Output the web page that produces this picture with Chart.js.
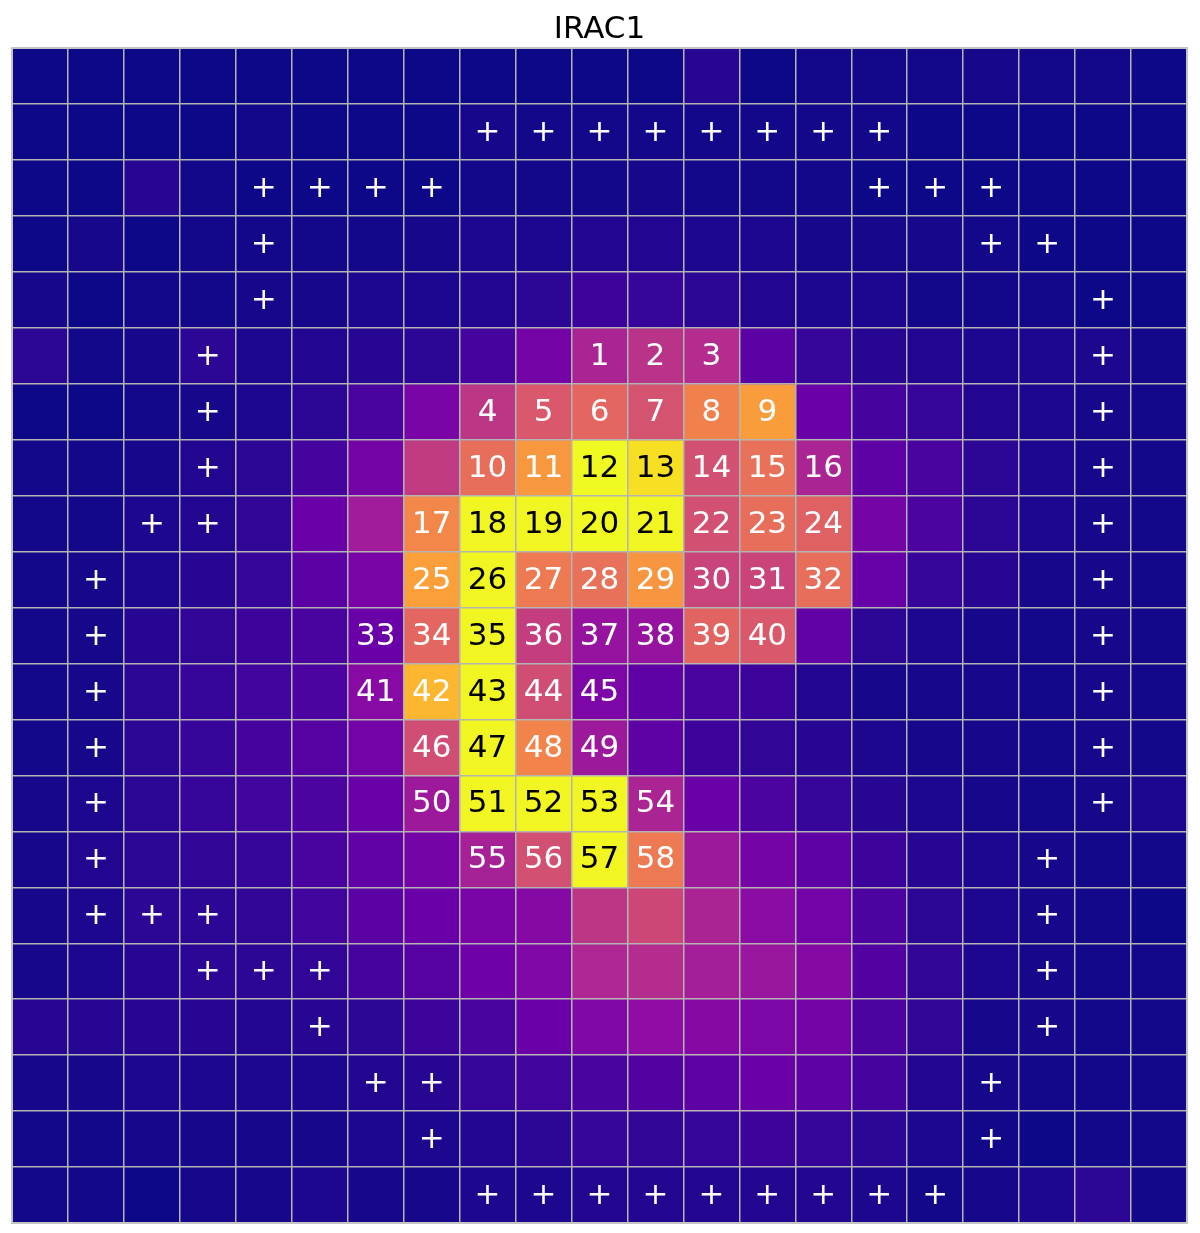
<!DOCTYPE html>
<html lang="en">

<head>
  <meta charset="UTF-8">
  <title>IRAC1</title>
  <style>
    html, body { margin: 0; padding: 0; background: #ffffff; }
    #box { width: 1200px; height: 1233px; }
  </style>
</head>

<body>
  <div id="box">
    <canvas id="myChart"></canvas>
  </div>

  <script src="https://cdn.jsdelivr.net/npm/chart.js"></script>

  <script>
    // grid columns and rows (21 x 21 pixels)
    const columns = ['0','1','2','3','4','5','6','7','8','9','10','11','12','13','14','15','16','17','18','19','20'];
    const rows = [0,1,2,3,4,5,6,7,8,9,10,11,12,13,14,15,16,17,18,19,20];

    // normalised flux per pixel, top row first
    const row00 = [0.00,0.00,0.00,0.00,0.00,0.00,0.00,0.00,0.00,0.00,0.00,0.00,0.05,0.00,0.01,0.01,0.01,0.02,0.01,0.01,0.00];
    const row01 = [0.00,0.00,0.00,0.00,0.01,0.00,0.00,0.00,0.02,0.01,0.01,0.01,0.01,0.01,0.01,0.01,0.00,0.00,0.00,0.00,0.00];
    const row02 = [0.00,0.00,0.05,0.01,0.00,0.00,0.00,0.00,0.01,0.01,0.01,0.02,0.01,0.01,0.01,0.00,0.00,0.00,0.00,0.00,0.00];
    const row03 = [0.00,0.02,0.00,0.01,0.01,0.01,0.01,0.02,0.03,0.03,0.04,0.04,0.03,0.03,0.02,0.02,0.02,0.01,0.00,0.00,0.00];
    const row04 = [0.02,0.00,0.01,0.01,0.02,0.02,0.03,0.03,0.04,0.06,0.09,0.08,0.06,0.04,0.03,0.03,0.01,0.01,0.01,0.00,0.00];
    const row05 = [0.06,0.01,0.02,0.06,0.03,0.04,0.05,0.06,0.11,0.23,0.38,0.43,0.41,0.16,0.08,0.05,0.04,0.03,0.03,0.03,0.01];
    const row06 = [0.00,0.00,0.01,0.02,0.03,0.06,0.12,0.24,0.44,0.56,0.61,0.54,0.69,0.77,0.20,0.11,0.08,0.04,0.03,0.02,0.01];
    const row07 = [0.01,0.01,0.02,0.04,0.06,0.11,0.23,0.46,0.63,0.76,1.00,0.94,0.53,0.64,0.38,0.17,0.12,0.06,0.03,0.02,0.01];
    const row08 = [0.01,0.01,0.03,0.04,0.07,0.20,0.35,0.71,0.99,0.99,1.00,0.99,0.53,0.63,0.59,0.23,0.13,0.06,0.03,0.02,0.01];
    const row09 = [0.01,0.02,0.03,0.05,0.08,0.16,0.24,0.78,0.99,0.67,0.64,0.75,0.49,0.49,0.63,0.19,0.08,0.05,0.02,0.02,0.01];
    const row10 = [0.01,0.02,0.05,0.07,0.09,0.12,0.20,0.61,0.99,0.47,0.32,0.32,0.60,0.56,0.18,0.06,0.03,0.02,0.01,0.02,0.01];
    const row11 = [0.01,0.02,0.06,0.08,0.10,0.13,0.28,0.84,0.99,0.52,0.25,0.17,0.12,0.09,0.04,0.02,0.02,0.02,0.01,0.02,0.01];
    const row12 = [0.01,0.02,0.06,0.08,0.11,0.15,0.22,0.52,0.99,0.70,0.34,0.17,0.09,0.07,0.05,0.03,0.02,0.02,0.01,0.02,0.01];
    const row13 = [0.02,0.03,0.06,0.08,0.10,0.13,0.20,0.34,0.99,0.99,0.99,0.38,0.20,0.13,0.08,0.05,0.03,0.02,0.01,0.02,0.03];
    const row14 = [0.02,0.04,0.06,0.07,0.08,0.12,0.18,0.23,0.37,0.53,0.99,0.67,0.34,0.23,0.17,0.09,0.05,0.03,0.02,0.01,0.01];
    const row15 = [0.02,0.03,0.06,0.06,0.07,0.10,0.16,0.20,0.24,0.27,0.44,0.50,0.38,0.29,0.22,0.13,0.06,0.03,0.02,0.01,0.00];
    const row16 = [0.02,0.03,0.05,0.06,0.06,0.07,0.11,0.15,0.21,0.26,0.39,0.41,0.36,0.33,0.27,0.14,0.07,0.03,0.02,0.01,0.01];
    const row17 = [0.05,0.05,0.05,0.05,0.04,0.05,0.06,0.09,0.12,0.20,0.26,0.30,0.27,0.25,0.23,0.13,0.07,0.02,0.02,0.01,0.01];
    const row18 = [0.02,0.02,0.03,0.03,0.03,0.03,0.04,0.05,0.08,0.10,0.12,0.14,0.17,0.20,0.17,0.11,0.04,0.02,0.01,0.01,0.01];
    const row19 = [0.01,0.01,0.02,0.02,0.02,0.02,0.03,0.03,0.04,0.06,0.08,0.07,0.08,0.09,0.08,0.06,0.03,0.01,0.00,0.01,0.01];
    const row20 = [0.01,0.01,0.00,0.02,0.02,0.03,0.02,0.02,0.03,0.03,0.04,0.04,0.04,0.04,0.04,0.03,0.01,0.02,0.03,0.06,0.01];
    const flux = [row00,row01,row02,row03,row04,row05,row06,row07,row08,row09,row10,
                  row11,row12,row13,row14,row15,row16,row17,row18,row19,row20];

    // numbered pixels 1..58 as [row, col]
    const numberedCells = [
      [5,10],[5,11],[5,12],
      [6,8],[6,9],[6,10],[6,11],[6,12],[6,13],
      [7,8],[7,9],[7,10],[7,11],[7,12],[7,13],[7,14],
      [8,7],[8,8],[8,9],[8,10],[8,11],[8,12],[8,13],[8,14],
      [9,7],[9,8],[9,9],[9,10],[9,11],[9,12],[9,13],[9,14],
      [10,6],[10,7],[10,8],[10,9],[10,10],[10,11],[10,12],[10,13],
      [11,6],[11,7],[11,8],[11,9],[11,10],
      [12,7],[12,8],[12,9],[12,10],
      [13,7],[13,8],[13,9],[13,10],[13,11],
      [14,8],[14,9],[14,10],[14,11]
    ];

    // aperture ring marked with '+'
    const plusCells = [
      [1,8],[1,9],[1,10],[1,11],[1,12],[1,13],[1,14],[1,15],
      [2,4],[2,5],[2,6],[2,7],[2,15],[2,16],[2,17],
      [3,4],[3,17],[3,18],
      [4,4],[4,19],
      [5,3],[5,19],[6,3],[6,19],[7,3],[7,19],
      [8,2],[8,3],[8,19],
      [9,1],[9,19],[10,1],[10,19],[11,1],[11,19],[12,1],[12,19],[13,1],[13,19],
      [14,1],[14,18],
      [15,1],[15,2],[15,3],[15,18],
      [16,3],[16,4],[16,5],[16,18],
      [17,5],[17,18],
      [18,6],[18,7],[18,17],
      [19,7],[19,17],
      [20,8],[20,9],[20,10],[20,11],[20,12],[20,13],[20,14],[20,15],[20,16]
    ];

    // plasma colormap
    const plasmaStops = ['#0d0887','#41049d','#6a00a8','#8f0da4','#b12a90','#cc4778',
                         '#e16462','#f2844b','#fca636','#fcce25','#f0f921'];
    function hexToRgb(h) {
      return [parseInt(h.slice(1,3),16), parseInt(h.slice(3,5),16), parseInt(h.slice(5,7),16)];
    }
    function plasma(v) {
      v = Math.max(0, Math.min(1, v));
      const p = v * (plasmaStops.length - 1);
      const i = Math.min(Math.floor(p), plasmaStops.length - 2);
      const f = p - i;
      const a = hexToRgb(plasmaStops[i]), b = hexToRgb(plasmaStops[i + 1]);
      const c = a.map((x, k) => Math.round(x + (b[k] - x) * f));
      return 'rgb(' + c.join(',') + ')';
    }

    // one floating-bar dataset per row
    const datasets = rows.map(r => ({
      label: 'row ' + r,
      data: columns.map(() => [r, r + 1]),
      backgroundColor: flux[r].map(v => plasma(v)),
      borderWidth: 0,
      borderSkipped: false,
      categoryPercentage: 1.0,
      barPercentage: 1.0,
      grouped: false
    }));

    const cellText = {
      id: 'cellText',
      afterDraw(chart) {
        const ctx = chart.ctx;
        ctx.save();
        ctx.font = '31px "DejaVu Sans"';
        ctx.textAlign = 'center';
        ctx.textBaseline = 'middle';
        const put = (r, c, txt, color) => {
          const bar = chart.getDatasetMeta(r).data[c];
          ctx.fillStyle = color;
          ctx.fillText(txt, bar.x, (bar.y + bar.base) / 2 + 1);
        };
        numberedCells.forEach((rc, i) => {
          const v = flux[rc[0]][rc[1]];
          put(rc[0], rc[1], String(i + 1), v >= 0.9 ? '#000000' : '#ffffff');
        });
        plusCells.forEach(rc => put(rc[0], rc[1], '+', '#ffffff'));
        ctx.restore();
      }
    };

    const ctx = document.getElementById('myChart').getContext('2d');
    new Chart(ctx, {
      type: 'bar',
      data: { labels: columns, datasets: datasets },
      plugins: [cellText],
      options: {
        responsive: true,
        maintainAspectRatio: false,
        animation: false,
        layout: { padding: { left: 12, right: 13, top: 0, bottom: 10 } },
        plugins: {
          legend: { display: false },
          tooltip: { enabled: false },
          title: {
            display: true,
            text: 'IRAC1',
            color: '#000000',
            font: { family: 'DejaVu Sans', size: 31, weight: 'normal' },
            padding: { top: 11, bottom: 0 }
          }
        },
        scales: {
          x: {
            z: 1,
            offset: true,
            ticks: { display: false },
            grid: { z: 1, color: '#b4b4b4', lineWidth: 1.5, offset: true, drawTicks: false },
            border: { z: 2, display: true, color: '#c4c4c4', width: 2 }
          },
          y: {
            z: 1,
            min: 0,
            max: 21,
            reverse: true,
            ticks: { display: false, stepSize: 1 },
            grid: { z: 1, color: '#b4b4b4', lineWidth: 1.5, drawTicks: false },
            border: { z: 2, display: true, color: '#c4c4c4', width: 2 }
          },
          x2: {
            position: 'top',
            z: 1,
            ticks: { display: false },
            grid: { display: false, drawTicks: false },
            border: { z: 2, display: true, color: '#c4c4c4', width: 2 }
          },
          y2: {
            position: 'right',
            z: 1,
            ticks: { display: false },
            grid: { display: false, drawTicks: false },
            border: { z: 2, display: true, color: '#c4c4c4', width: 2 }
          }
        }
      }
    });
  </script>
</body>

</html>
